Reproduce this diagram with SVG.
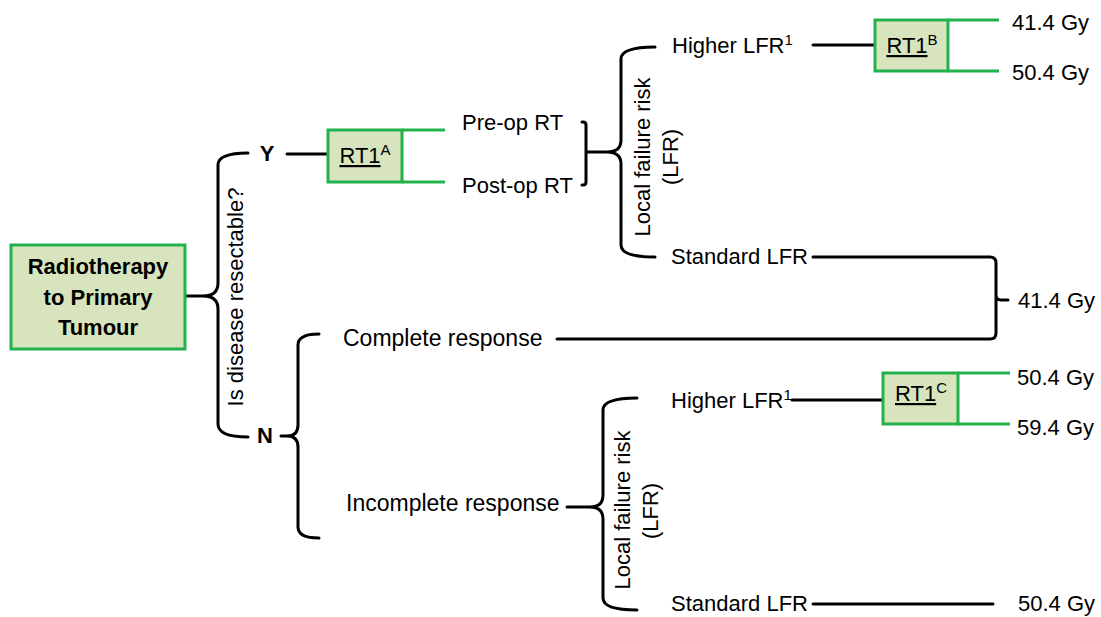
<svg xmlns="http://www.w3.org/2000/svg" width="1101" height="617" viewBox="0 0 1101 617">
<style>
text{font-family:"Liberation Sans",Arial,sans-serif;font-size:22px;fill:#000}
.b{font-weight:bold}
.sup{font-size:15px}
.box{fill:#d7e4bd;stroke:#22b14c;stroke-width:3}
.g{stroke:#22b14c;stroke-width:3;fill:none}
.k{stroke:#000;stroke-width:3;fill:none;stroke-linecap:round;stroke-linejoin:round}
</style>
<rect width="1101" height="617" fill="#fff"/>
<g id="connectors">
<path class="k" d="M248,153 Q218,153 218,165 L218,283 Q218,296 203,296 L186,296 M203,296 Q218,296 218,309 L218,424 Q218,437 248,437"/>
<line class="k" x1="287" y1="154" x2="328" y2="154"/>
<path class="k" d="M319,334 Q298,334 298,345 L298,425 Q298,436 287,436 L281,436 M287,436 Q298,436 298,447 L298,527 Q298,538 319,538"/>
<path class="k" d="M582,122 L583,122 Q586,122 586,125 L586,182 Q586,185 583,185 L582,185 M586,152 L607,152 Q621,152 621,140 L621,59 Q621,47 655,47 M607,152 Q621,152 621,164 L621,245 Q621,257 655,257"/>
<line class="k" x1="813" y1="45" x2="875" y2="45"/>
<path class="k" d="M813,257 L990,257 Q996,257 996,263 L996,333 Q996,339 990,339 L557,339 M996,295 Q996,300 1001,300 L1008,300"/>
<path class="k" d="M567,507 L590,507 Q603,507 603,495 L603,410 Q603,398 637,398 M590,507 Q603,507 603,519 L603,598 Q603,610 637,610"/>
<line class="k" x1="792" y1="400" x2="883" y2="400"/>
<line class="k" x1="813" y1="604" x2="993" y2="604"/>
</g>
<g id="main">
<rect class="box" x="11" y="245" width="174" height="104"/>
<text class="b" x="98" y="274" text-anchor="middle">Radiotherapy</text>
<text class="b" x="98" y="305" text-anchor="middle">to Primary</text>
<text class="b" x="98" y="335" text-anchor="middle">Tumour</text>
</g>
<g id="question">
<text transform="translate(243,297) rotate(-90)" text-anchor="middle">Is disease resectable?</text>
</g>
<g id="yes"><text class="b" x="267" y="161" text-anchor="middle">Y</text></g>
<g id="no"><text class="b" x="265" y="443" text-anchor="middle">N</text></g>
<g id="rt1a">
<rect class="box" x="328" y="130" width="74" height="52"/>
<path class="g" d="M402,130 L445,130 M402,182 L445,182"/>
<text x="365" y="163" text-anchor="middle"><tspan text-decoration="underline">RT1</tspan><tspan class="sup" dy="-8">A</tspan></text>
</g>
<g id="preop"><text x="462" y="130">Pre-op RT</text></g>
<g id="postop"><text x="462" y="193">Post-op RT</text></g>
<g id="lfr-top">
<text transform="translate(650,157) rotate(-90)" text-anchor="middle">Local failure risk</text>
<text transform="translate(678,157) rotate(-90)" text-anchor="middle">(LFR)</text>
</g>
<g id="higher-top"><text x="672" y="53">Higher LFR<tspan class="sup" dy="-8">1</tspan></text></g>
<g id="rt1b">
<rect class="box" x="875" y="20" width="73" height="51"/>
<path class="g" d="M948,20 L999,20 M948,71 L999,71"/>
<text x="912" y="53" text-anchor="middle"><tspan text-decoration="underline">RT1</tspan><tspan class="sup" dy="-8">B</tspan></text>
</g>
<g id="dose-b1"><text x="1012" y="30">41.4 Gy</text></g>
<g id="dose-b2"><text x="1012" y="80">50.4 Gy</text></g>
<g id="standard-top"><text x="671" y="264">Standard LFR</text></g>
<g id="dose-mid"><text x="1018" y="308">41.4 Gy</text></g>
<g id="complete"><text x="343" y="346" style="font-size:23px">Complete response</text></g>
<g id="incomplete"><text x="346" y="511" style="font-size:23px">Incomplete response</text></g>
<g id="lfr-bottom">
<text transform="translate(630,510) rotate(-90)" text-anchor="middle">Local failure risk</text>
<text transform="translate(658,511) rotate(-90)" text-anchor="middle">(LFR)</text>
</g>
<g id="higher-bottom"><text x="671" y="408">Higher LFR<tspan class="sup" dy="-8">1</tspan></text></g>
<g id="rt1c">
<rect class="box" x="883" y="373" width="75" height="51"/>
<path class="g" d="M958,373 L1010,373 M958,424 L1010,424"/>
<text x="921" y="401" text-anchor="middle"><tspan text-decoration="underline">RT1</tspan><tspan class="sup" dy="-8">C</tspan></text>
</g>
<g id="dose-c1"><text x="1017" y="385">50.4 Gy</text></g>
<g id="dose-c2"><text x="1017" y="435">59.4 Gy</text></g>
<g id="standard-bottom"><text x="671" y="611">Standard LFR</text></g>
<g id="dose-std"><text x="1018" y="611">50.4 Gy</text></g>
</svg>
